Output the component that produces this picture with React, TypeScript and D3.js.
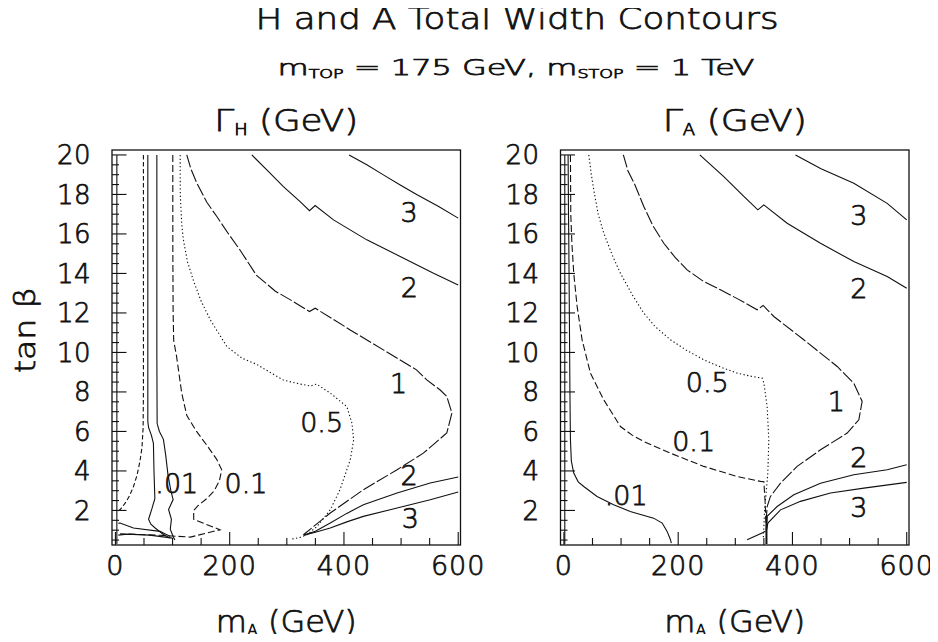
import React from "react";
import * as d3 from "d3";

type P = [number, number];

// ---------- axis ticks ----------
const xMajorTicks = [0, 200, 400, 600];
const xMinorTicks = d3.range(0, 601, 50);
const yMajorTicks = [2, 4, 6, 8, 10, 12, 14, 16, 18, 20];
const yMinorTicks = d3.range(0.5, 20.01, 0.5);

// ---------- Γ_H panel contours (m_A [GeV], tanβ) ----------
const hEdge: P[] = [[2.5, 0.3], [2.5, 20]];
const hC001: P[] = [[49, 20], [49, 12], [49, 8], [48.5, 6.2], [46.5, 5.2], [43, 4.5], [38, 3.8], [31.5, 3.2], [24, 2.7], [17, 2.37], [8, 2.03], [3, 1.95]];
const hC01a: P[] = [[56.7, 20], [56.7, 6.5], [58, 6.2], [63, 5.8], [66.5, 5.4], [67.5, 4.0], [69, 2.6], [64, 2.1], [58, 1.55], [62, 1.3], [70, 1.1], [84, 0.78], [95, 0.6]];
const hC01b: P[] = [[72.5, 20], [72.5, 10], [73, 6.4], [77, 6.0], [84, 5.6], [88, 4.8], [92, 3.8], [97, 3.0], [101, 2.55], [93, 2.05], [98, 1.55], [96, 1.05], [101, 0.68], [104, 0.5]];
const hC1: P[] = [[100.4, 20], [100.5, 15], [101, 12], [102, 10.6], [107, 9.8], [116, 7.95], [125, 6.8], [142, 6.0], [160, 5.3], [177, 4.6], [186, 4.06], [182, 3.5], [173, 3.0], [160, 2.6], [145, 2.25], [137, 2.0], [137, 1.55], [183, 1.02], [131, 0.65], [78, 0.74], [8, 0.82]];
const hC5: P[] = [[113.3, 20], [113.5, 18], [116, 16.5], [119, 15.7], [126, 14.6], [137, 13.6], [150, 12.6], [166, 11.65], [195, 10.3], [222, 9.7], [247, 9.4], [270, 9.0], [294, 8.6], [320, 8.42], [341, 8.3], [352, 8.4], [376, 7.94], [405, 7.26], [414, 6.42], [417, 5.58], [411, 4.56], [393, 3.05], [376, 2.03], [353, 1.19], [335, 0.77], [322, 0.62], [308, 0.55]];
const hC10: P[] = [[124.9, 20], [132, 19.3], [142.5, 18.57], [160, 17.6], [177.5, 16.88], [198, 16.0], [218, 15.19], [247, 13.9], [280, 13.1], [310, 12.6], [339.7, 12.07], [349.6, 12.24], [380, 11.7], [410.9, 11.14], [469, 10.13], [527, 9.12], [545, 8.61], [568, 8.11], [580, 7.77], [589, 6.93], [580, 5.92], [539, 4.9], [493, 4.06], [434, 3.05], [376, 1.87], [347, 1.19], [329, 0.77]];
const hC2u: P[] = [[238.7, 20], [265, 19.24], [294, 18.4], [323.3, 17.64], [339.7, 17.18], [349.6, 17.44], [381.7, 16.71], [440, 15.7], [498.4, 14.86], [556.8, 14.01], [600, 13.42]];
const hC3u: P[] = [[409, 20], [440, 19.5], [469, 18.99], [500, 18.45], [528, 17.98], [565, 17.4], [600, 16.8]];
const hC2l: P[] = [[330, 0.75], [350, 0.95], [376, 1.36], [405, 1.85], [434, 2.29], [493, 2.88], [551, 3.39], [600, 3.69]];
const hC3l: P[] = [[330, 0.75], [350, 0.9], [376, 1.11], [405, 1.42], [434, 1.7], [493, 2.12], [551, 2.54], [600, 2.93]];
const hBot1: P[] = [[5, 1.35], [8, 1.36], [31.5, 1.11], [78, 0.94], [96, 0.68]];
const hBot2: P[] = [[5, 0.75], [20, 0.8], [60, 0.75], [100, 0.6]];

// ---------- Γ_A panel contours ----------
const aEdge: P[] = [[1.5, 0.3], [1.5, 20]];
const aC01: P[] = [[7.3, 20], [8, 17], [8.5, 15.7], [9.5, 12], [10.5, 8], [11.4, 5.58], [13, 4.5], [17.2, 3.89], [25, 3.45], [34.7, 3.21], [58, 2.71], [87, 2.29], [116, 1.95], [157, 1.61], [172, 1.36], [180.6, 0.94], [186.5, 0.52], [188, 0.35]];
const aC1: P[] = [[11.4, 20], [12, 17], [14, 15.5], [17.2, 14.0], [23.1, 12.33], [31.8, 10.64], [46.4, 8.95], [69.7, 7.6], [98.9, 6.25], [120, 5.8], [139.8, 5.49], [186.5, 4.9], [244.8, 4.23], [303.2, 3.72], [344, 3.47], [350, 3.45], [352, 2.5], [354, 1.2]];
const aC5: P[] = [[43.5, 20], [48, 19], [52.2, 18.23], [60, 17], [69.7, 16.04], [85, 14.9], [98.9, 14.01], [120, 12.9], [139.8, 11.99], [160, 11.3], [186.5, 10.64], [215, 10.1], [244.8, 9.63], [275, 9.25], [303.2, 8.95], [330, 8.78], [347, 8.7], [350, 8.45], [355.7, 7.26], [358.6, 5.58], [356.9, 3.89], [352.8, 2.54], [351, 1.87], [350, 1.19], [349, 0.6]];
const aC10: P[] = [[104, 20], [112, 19.2], [124, 18.5], [139.8, 17.39], [156, 16.4], [174.8, 15.53], [195, 14.8], [215.6, 14.18], [244, 13.6], [274, 13.17], [305, 12.7], [338.2, 12.16], [348.7, 12.38], [367.4, 11.82], [419.9, 10.64], [478.3, 9.29], [507.4, 8.44], [522, 7.52], [516.2, 6.59], [495.8, 5.92], [449.1, 5.07], [408.2, 4.23], [379.1, 3.38], [361.5, 2.71], [355.7, 2.2], [354, 1.5]];
const aC2u: P[] = [[237.8, 20], [279.8, 18.9], [314.9, 17.9], [339.4, 17.22], [349.9, 17.47], [390.7, 16.54], [449.1, 15.53], [507.4, 14.6], [565.8, 13.84], [600, 13.25]];
const aC3u: P[] = [[405.3, 20], [450, 19.3], [507.4, 18.57], [565.8, 17.55], [600, 16.71]];
const aC2l: P[] = [[354, 1.0], [355.7, 1.7], [373.2, 2.2], [402.4, 2.79], [449.1, 3.38], [507.4, 3.81], [565.8, 4.06], [600, 4.31]];
const aC3l: P[] = [[354, 0.9], [357, 1.36], [379.1, 2.03], [414, 2.46], [466.6, 2.88], [525, 3.13], [600, 3.42]];
const aBot: P[] = [[320.7, 0.52], [352.8, 0.94]];
const aStem: P[] = [[354.5, 0.3], [354.5, 1.7]];

// ---------- contour labels: text, m_A, tanβ ----------
const hLabelText = [".01", "0.1", "0.5", "1", "2", "3", "2", "3"];
const hLabelX = [107.5, 228.5, 361, 495.5, 514.5, 514, 514, 516];
const hLabelY = [3.39, 3.39, 6.46, 8.47, 13.33, 17.13, 3.8, 1.6];
const aLabelText = [".01", "0.1", "0.5", "1", "2", "3", "2", "3"];
const aLabelX = [109, 227, 251, 477, 516, 516, 516, 516];
const aLabelY = [2.79, 5.54, 8.49, 7.52, 13.25, 16.96, 4.69, 2.16];

const DASH: Record<string, string | undefined> = {
  solid: undefined,
  dash: "4.5,2.5",
  longdash: "7,3",
  dot: "1.3,2.4",
  dashdot: "13,2.5",
};

type Contour = { pts: P[]; style: string; w?: number };

const hContours: Contour[] = [
  { pts: hEdge, style: "solid" },
  { pts: hC001, style: "dash" },
  { pts: hC01a, style: "solid" },
  { pts: hC01b, style: "solid" },
  { pts: hC1, style: "longdash" },
  { pts: hC5, style: "dot" },
  { pts: hC10, style: "dashdot" },
  { pts: hC2u, style: "solid" },
  { pts: hC3u, style: "solid" },
  { pts: hC2l, style: "solid" },
  { pts: hC3l, style: "solid" },
  { pts: hBot1, style: "solid" },
  { pts: hBot2, style: "solid" },
];

const aContours: Contour[] = [
  { pts: aEdge, style: "solid" },
  { pts: aC01, style: "solid" },
  { pts: aC1, style: "longdash" },
  { pts: aC5, style: "dot" },
  { pts: aC10, style: "dashdot" },
  { pts: aC2u, style: "solid" },
  { pts: aC3u, style: "solid" },
  { pts: aC2l, style: "solid" },
  { pts: aC3l, style: "solid" },
  { pts: aBot, style: "solid" },
  { pts: aStem, style: "solid", w: 2 },
];

const FONT = "'DejaVu Sans', 'Liberation Sans', sans-serif";
const INK = "#111";
const PANEL_W = 348.5;
const TOP = 150;
const BOTTOM = 545;
const TXT = { fontFamily: FONT, fontWeight: 300, fill: INK, stroke: INK, strokeWidth: 0.75 };

function Panel(props: {
  x0: number;
  sub: string;
  contours: Contour[];
  labelText: string[];
  labelX: number[];
  labelY: number[];
}) {
  const { x0, sub, contours, labelText, labelX, labelY } = props;
  const x = d3.scaleLinear().domain([-6, 604]).range([x0, x0 + PANEL_W]);
  const y = d3.scaleLinear().domain([0.25, 20.25]).range([BOTTOM, TOP]);
  const line = d3
    .line<P>()
    .x((d) => x(d[0]))
    .y((d) => y(d[1]));
  const cx = x0 + PANEL_W / 2;
  return (
    <g>
      {/* panel title */}
      <text {...TXT} x={cx} y={131} textAnchor="middle" fontSize={30} textLength={144} lengthAdjust="spacingAndGlyphs">
        Γ<tspan fontSize={15} dy={4}>{sub}</tspan>
        <tspan dy={-4}> (GeV)</tspan>
      </text>
      {/* contours */}
      <g fill="none" stroke={INK}>
        {contours.map((c, i) => (
          <path key={i} d={line(c.pts) || ""} strokeWidth={c.w ?? 1.1} strokeDasharray={DASH[c.style]} />
        ))}
      </g>
      {/* contour labels */}
      {labelText.map((t, i) => (
        <text {...TXT} key={i} x={x(labelX[i])} y={y(labelY[i]) + 10} textAnchor="middle" fontSize={27}>
          {t}
        </text>
      ))}
      {/* frame */}
      <rect x={x0} y={TOP} width={PANEL_W} height={BOTTOM - TOP} fill="none" stroke={INK} strokeWidth={1.3} />
      {/* y ticks */}
      {yMinorTicks.map((v) => {
        const major = Math.abs(v / 2 - Math.round(v / 2)) < 1e-6;
        return <line key={"y" + v} x1={x0} x2={x0 + (major ? 14.5 : 7)} y1={y(v)} y2={y(v)} stroke={INK} strokeWidth={1.1} />;
      })}
      {yMajorTicks.map((v) => (
        <text {...TXT} key={"yl" + v} x={x0 - 21} y={y(v) + 9.5} textAnchor="end" fontSize={26} letterSpacing={0.5}>
          {v}
        </text>
      ))}
      {/* x ticks */}
      {xMinorTicks.map((v) => {
        const major = v % 200 === 0;
        return <line key={"x" + v} x1={x(v)} x2={x(v)} y1={BOTTOM} y2={BOTTOM - (major ? 13 : 7)} stroke={INK} strokeWidth={1.1} />;
      })}
      {xMajorTicks.map((v) => (
        <text {...TXT} key={"xl" + v} x={x(v)} y={575} textAnchor="middle" fontSize={27} letterSpacing={1}>
          {v}
        </text>
      ))}
      {/* x axis title */}
      <text {...TXT} x={cx} y={632} textAnchor="middle" fontSize={30} textLength={141} lengthAdjust="spacingAndGlyphs">
        m<tspan fontSize={15} dy={4}>A</tspan>
        <tspan dy={-4}> (GeV)</tspan>
      </text>
    </g>
  );
}

export default function App() {
  return (
    <svg width={938} height={642} viewBox="0 0 938 642" style={{ display: "block", background: "#fff", margin: "-8px" }}>
      <rect width={938} height={642} fill="#fff" />
      <text {...TXT} x={517} y={28.5} textAnchor="middle" fontSize={30} textLength={523} lengthAdjust="spacingAndGlyphs">
        H and A Total Width Contours
      </text>
      <text {...TXT} x={516} y={75} textAnchor="middle" fontSize={22} textLength={477} lengthAdjust="spacingAndGlyphs">
        m<tspan fontSize={12} dy={3}>TOP</tspan>
        <tspan dy={-3}> = 175 GeV, m</tspan>
        <tspan fontSize={12} dy={3}>STOP</tspan>
        <tspan dy={-3}> = 1 TeV</tspan>
      </text>
      <text {...TXT} transform="translate(35,330) rotate(-90)" textAnchor="middle" fontSize={28} textLength={86} lengthAdjust="spacingAndGlyphs">
        tan β
      </text>
      <Panel x0={112} sub="H" contours={hContours} labelText={hLabelText} labelX={hLabelX} labelY={hLabelY} />
      <Panel x0={560.5} sub="A" contours={aContours} labelText={aLabelText} labelX={aLabelX} labelY={aLabelY} />
    </svg>
  );
}
